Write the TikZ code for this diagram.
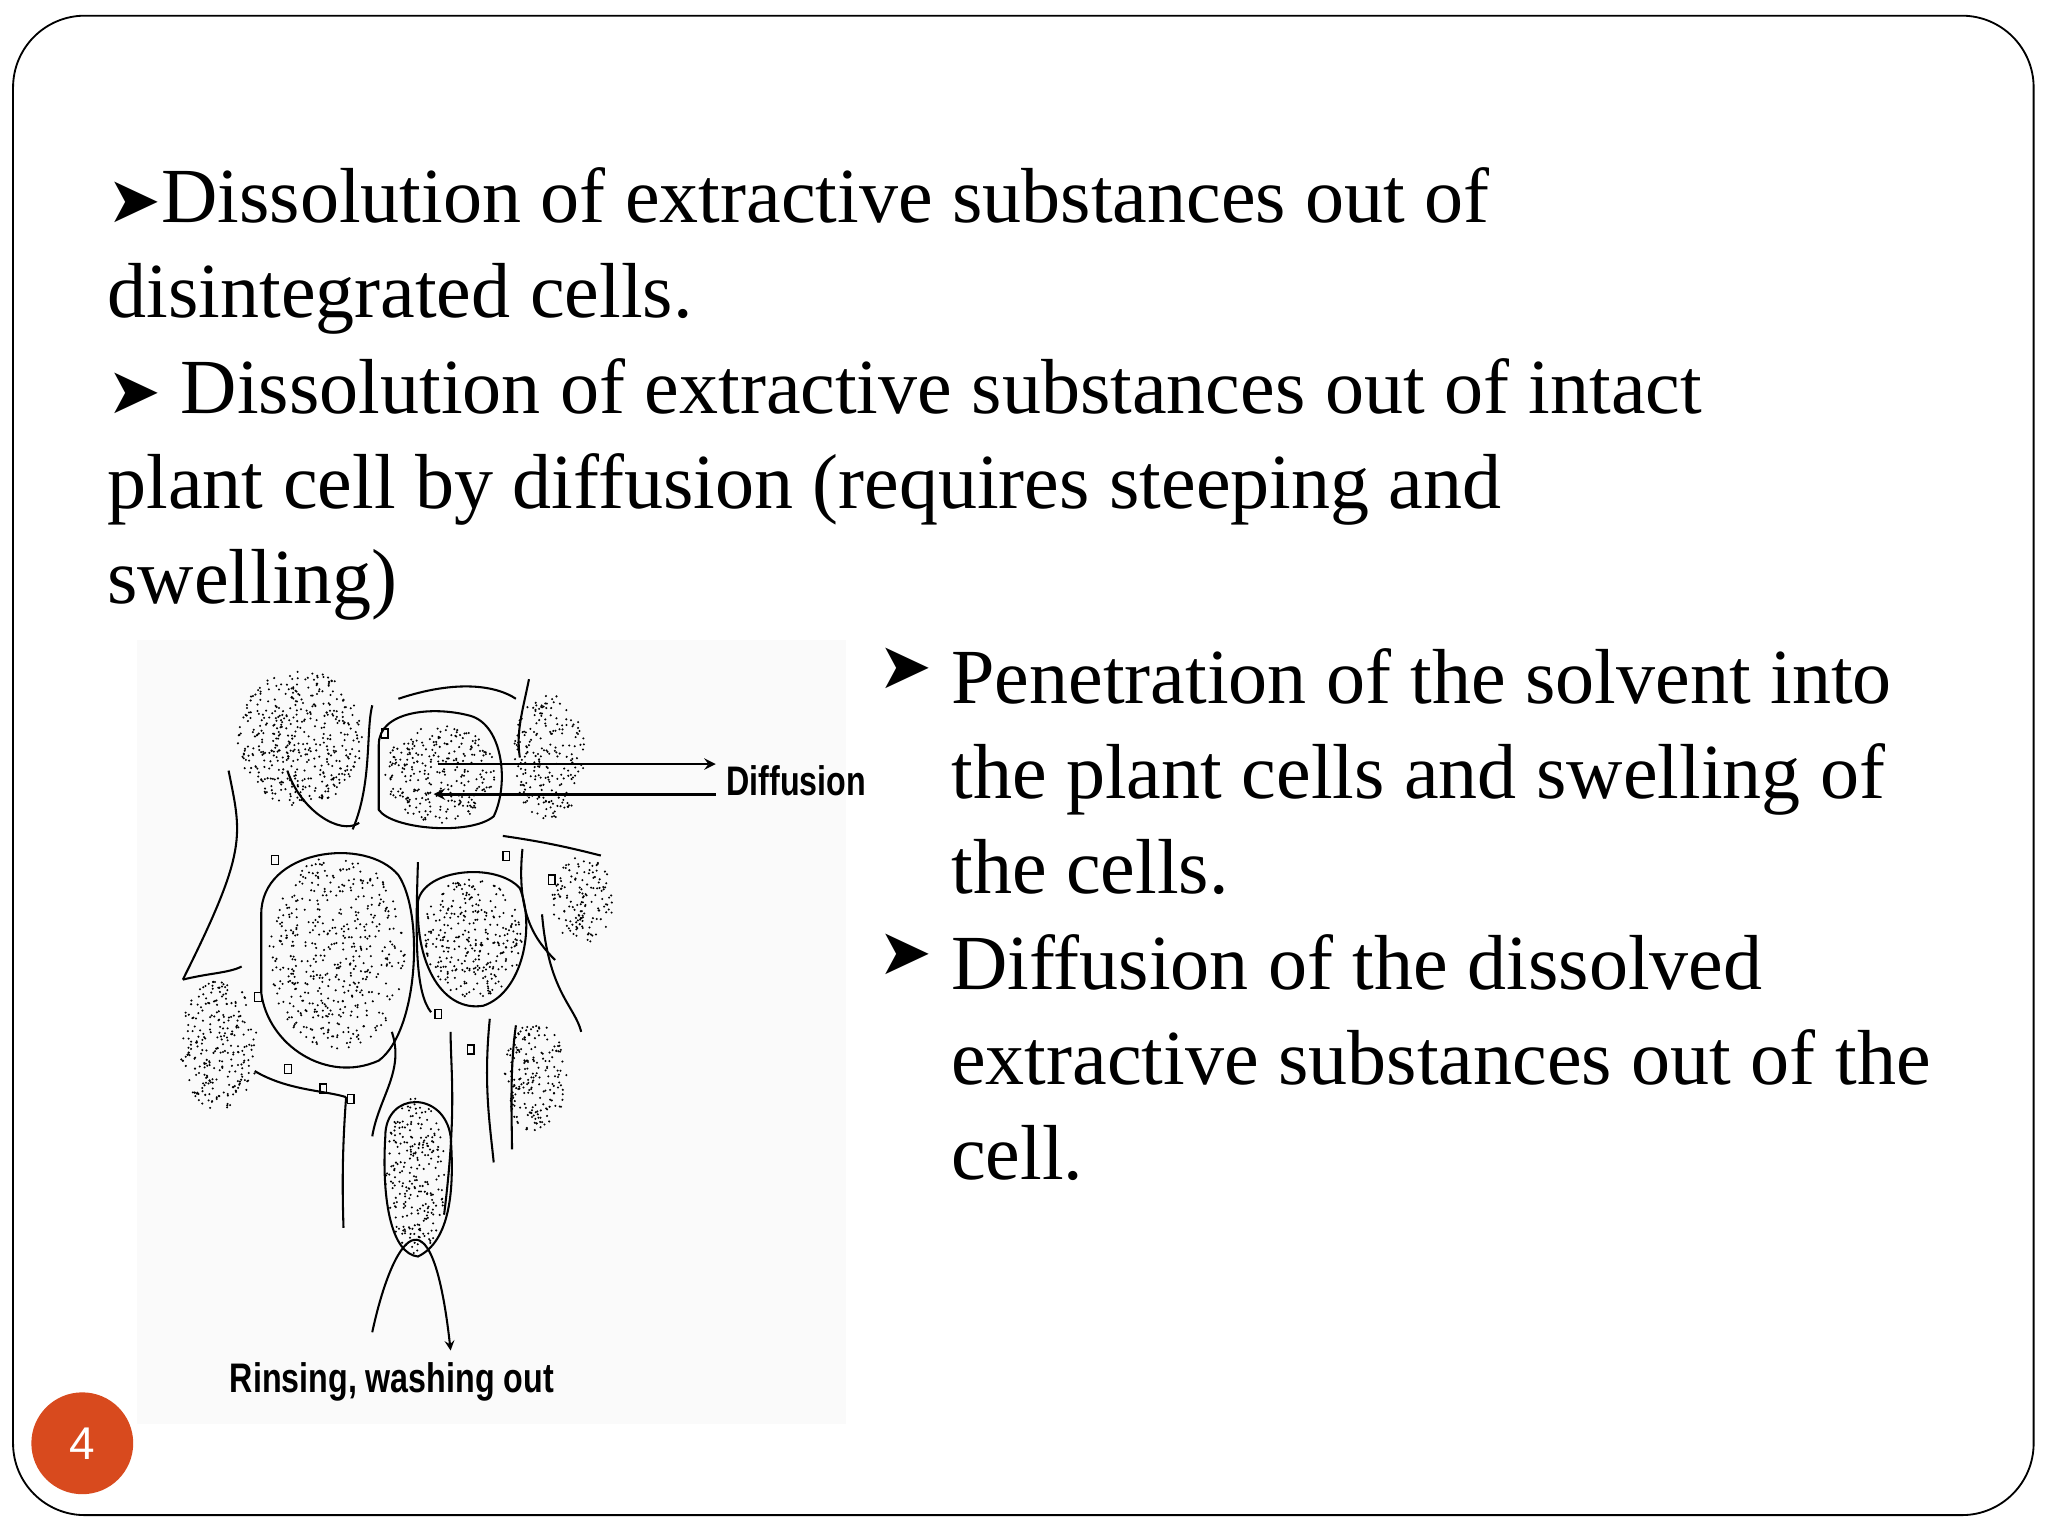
\documentclass[tikz,border=0pt]{standalone}
\usepackage{fontspec}
\setmainfont{Liberation Serif}
\newfontfamily\symf{DejaVu Sans}
\newfontfamily\labf{Liberation Sans}
\begin{document}
\begin{tikzpicture}[x=0.02cm,y=-0.02cm,
  body/.style={font=\fontsize{34}{41.5}\selectfont,anchor=north west,align=left,inner sep=0},
  lab/.style={font=\labf\bfseries\fontsize{18}{20}\selectfont,inner sep=0,xscale=0.78},
  wall/.style={line width=0.9pt},
  arr/.style={line width=1.2pt,-stealth}]
\useasboundingbox (0,0) rectangle (1568,1176);
\fill[white] (0,0) rectangle (1568,1176);
\draw[line width=0.8pt,rounded corners=1.1cm] (10,12) rectangle (1557,1160);
\node[body] (t1) at (82,128) {{\symf\fontsize{28}{30}\selectfont ➤}Dissolution of extractive substances out of\\disintegrated cells.\\{\symf\fontsize{28}{30}\selectfont ➤} Dissolution of extractive substances out of intact\\plant cell by diffusion (requires steeping and\\swelling)};
\node[body] (b1) at (672,496) {{\symf\fontsize{28}{30}\selectfont ➤}};
\node[body] (t2) at (728,496) {Penetration of the solvent into\\the plant cells and swelling of\\the cells.};
\node[body] (b2) at (672,715) {{\symf\fontsize{28}{30}\selectfont ➤}};
\node[body] (t3) at (728,715) {Diffusion of the dissolved\\extractive substances out of the\\cell.};
\fill[black!2] (105,490) rectangle (648,1090);
% walls / network
\draw[wall] (175,590) .. controls (185,640) and (190,650) .. (140,750);
\draw[wall] (285,540) .. controls (280,560) and (285,600) .. (270,635);
\draw[wall] (305,535) .. controls (350,520) and (380,525) .. (395,535);
\draw[wall] (405,520) .. controls (400,545) and (395,560) .. (398,580);
\draw[wall] (385,640) .. controls (420,645) and (440,650) .. (460,655);
\draw[wall] (400,650) .. controls (395,700) and (410,720) .. (425,735);
\draw[wall] (415,700) .. controls (420,760) and (440,770) .. (445,790);
\draw[wall] (320,660) .. controls (318,720) and (318,760) .. (330,775);
\draw[wall] (140,750) .. controls (160,745) and (175,745) .. (185,740);
\draw[wall] (195,820) .. controls (220,835) and (250,835) .. (265,840);
\draw[wall] (265,840) .. controls (262,880) and (262,910) .. (263,940);
\draw[wall] (300,790) .. controls (310,820) and (290,840) .. (285,870);
\draw[wall] (345,790) .. controls (345,820) and (350,850) .. (340,930);
\draw[wall] (375,780) .. controls (370,830) and (375,860) .. (378,890);
\draw[wall] (395,785) .. controls (390,820) and (392,860) .. (392,880);
\draw[wall] (220,590) .. controls (230,620) and (260,640) .. (275,630);
% cell outlines
\draw[wall] (290,570) .. controls (290,545) and (330,540) .. (360,548) .. controls (385,555) and (390,600) .. (378,625) .. controls (360,640) and (300,635) .. (290,620) -- cycle;
\draw[wall] (200,700) .. controls (200,650) and (280,640) .. (305,670) .. controls (325,700) and (320,790) .. (290,812) .. controls (250,830) and (205,800) .. (200,760) -- cycle;
\draw[wall] (320,690) .. controls (325,665) and (380,660) .. (398,680) .. controls (410,710) and (400,760) .. (370,770) .. controls (340,775) and (318,740) .. (320,690) -- cycle;
\draw[wall] (295,870) .. controls (295,835) and (340,835) .. (345,870) .. controls (348,910) and (345,950) .. (320,962) .. controls (300,960) and (292,920) .. (295,870) -- cycle;
% stipple
\pgfmathsetseed{7}
\foreach \cx/\cy/\rx/\ry/\n in {230/565/48/52/450, 337/592/42/38/280, 420/580/28/48/220, 258/730/52/75/480, 362/718/38/46/300, 446/690/24/34/140, 168/800/30/50/260, 410/825/24/42/200, 318/900/23/60/250}{
  \foreach \k in {1,...,\n}{
    \pgfmathsetmacro\a{rnd*360}\pgfmathsetmacro\r{sqrt(rnd)}
    \pgfmathsetmacro\qx{\cx+\r*\rx*cos(\a)}\pgfmathsetmacro\qy{\cy+\r*\ry*sin(\a)}
    \fill (\qx,\qy) circle (0.5pt);
  }}
% small pores
\foreach \px/\py in {385/652,358/800,218/815,245/830,333/773,195/760,292/558,208/655,266/838,420/670}{
  \draw[line width=0.6pt] (\px,\py) rectangle ++(5,7);}
% arrows
\node[lab,anchor=west] (dif) at (556,598) {Diffusion};
\coordinate (d1) at (335,585); \coordinate (d1e) at (548,585);
\coordinate (d2) at (548,608); \coordinate (d2e) at (332,608);
\draw[arr] (d1) -- (d1e);
\draw[arr] (d2) -- (d2e);
\node[lab] (rin) at (300,1058) {Rinsing, washing out};
\coordinate (r0) at (285,1020); \coordinate (r1) at (345,1034);
\draw[line width=0.9pt,-stealth] (r0) .. controls (300,950) and (330,900) .. (r1);
% page number
\node[circle,fill={rgb,255:red,216;green,74;blue,30},minimum size=1.56cm,inner sep=0,text=white,font=\labf\fontsize{20}{22}\selectfont] (pg) at (63,1105) {4};
\end{tikzpicture}
\end{document}
